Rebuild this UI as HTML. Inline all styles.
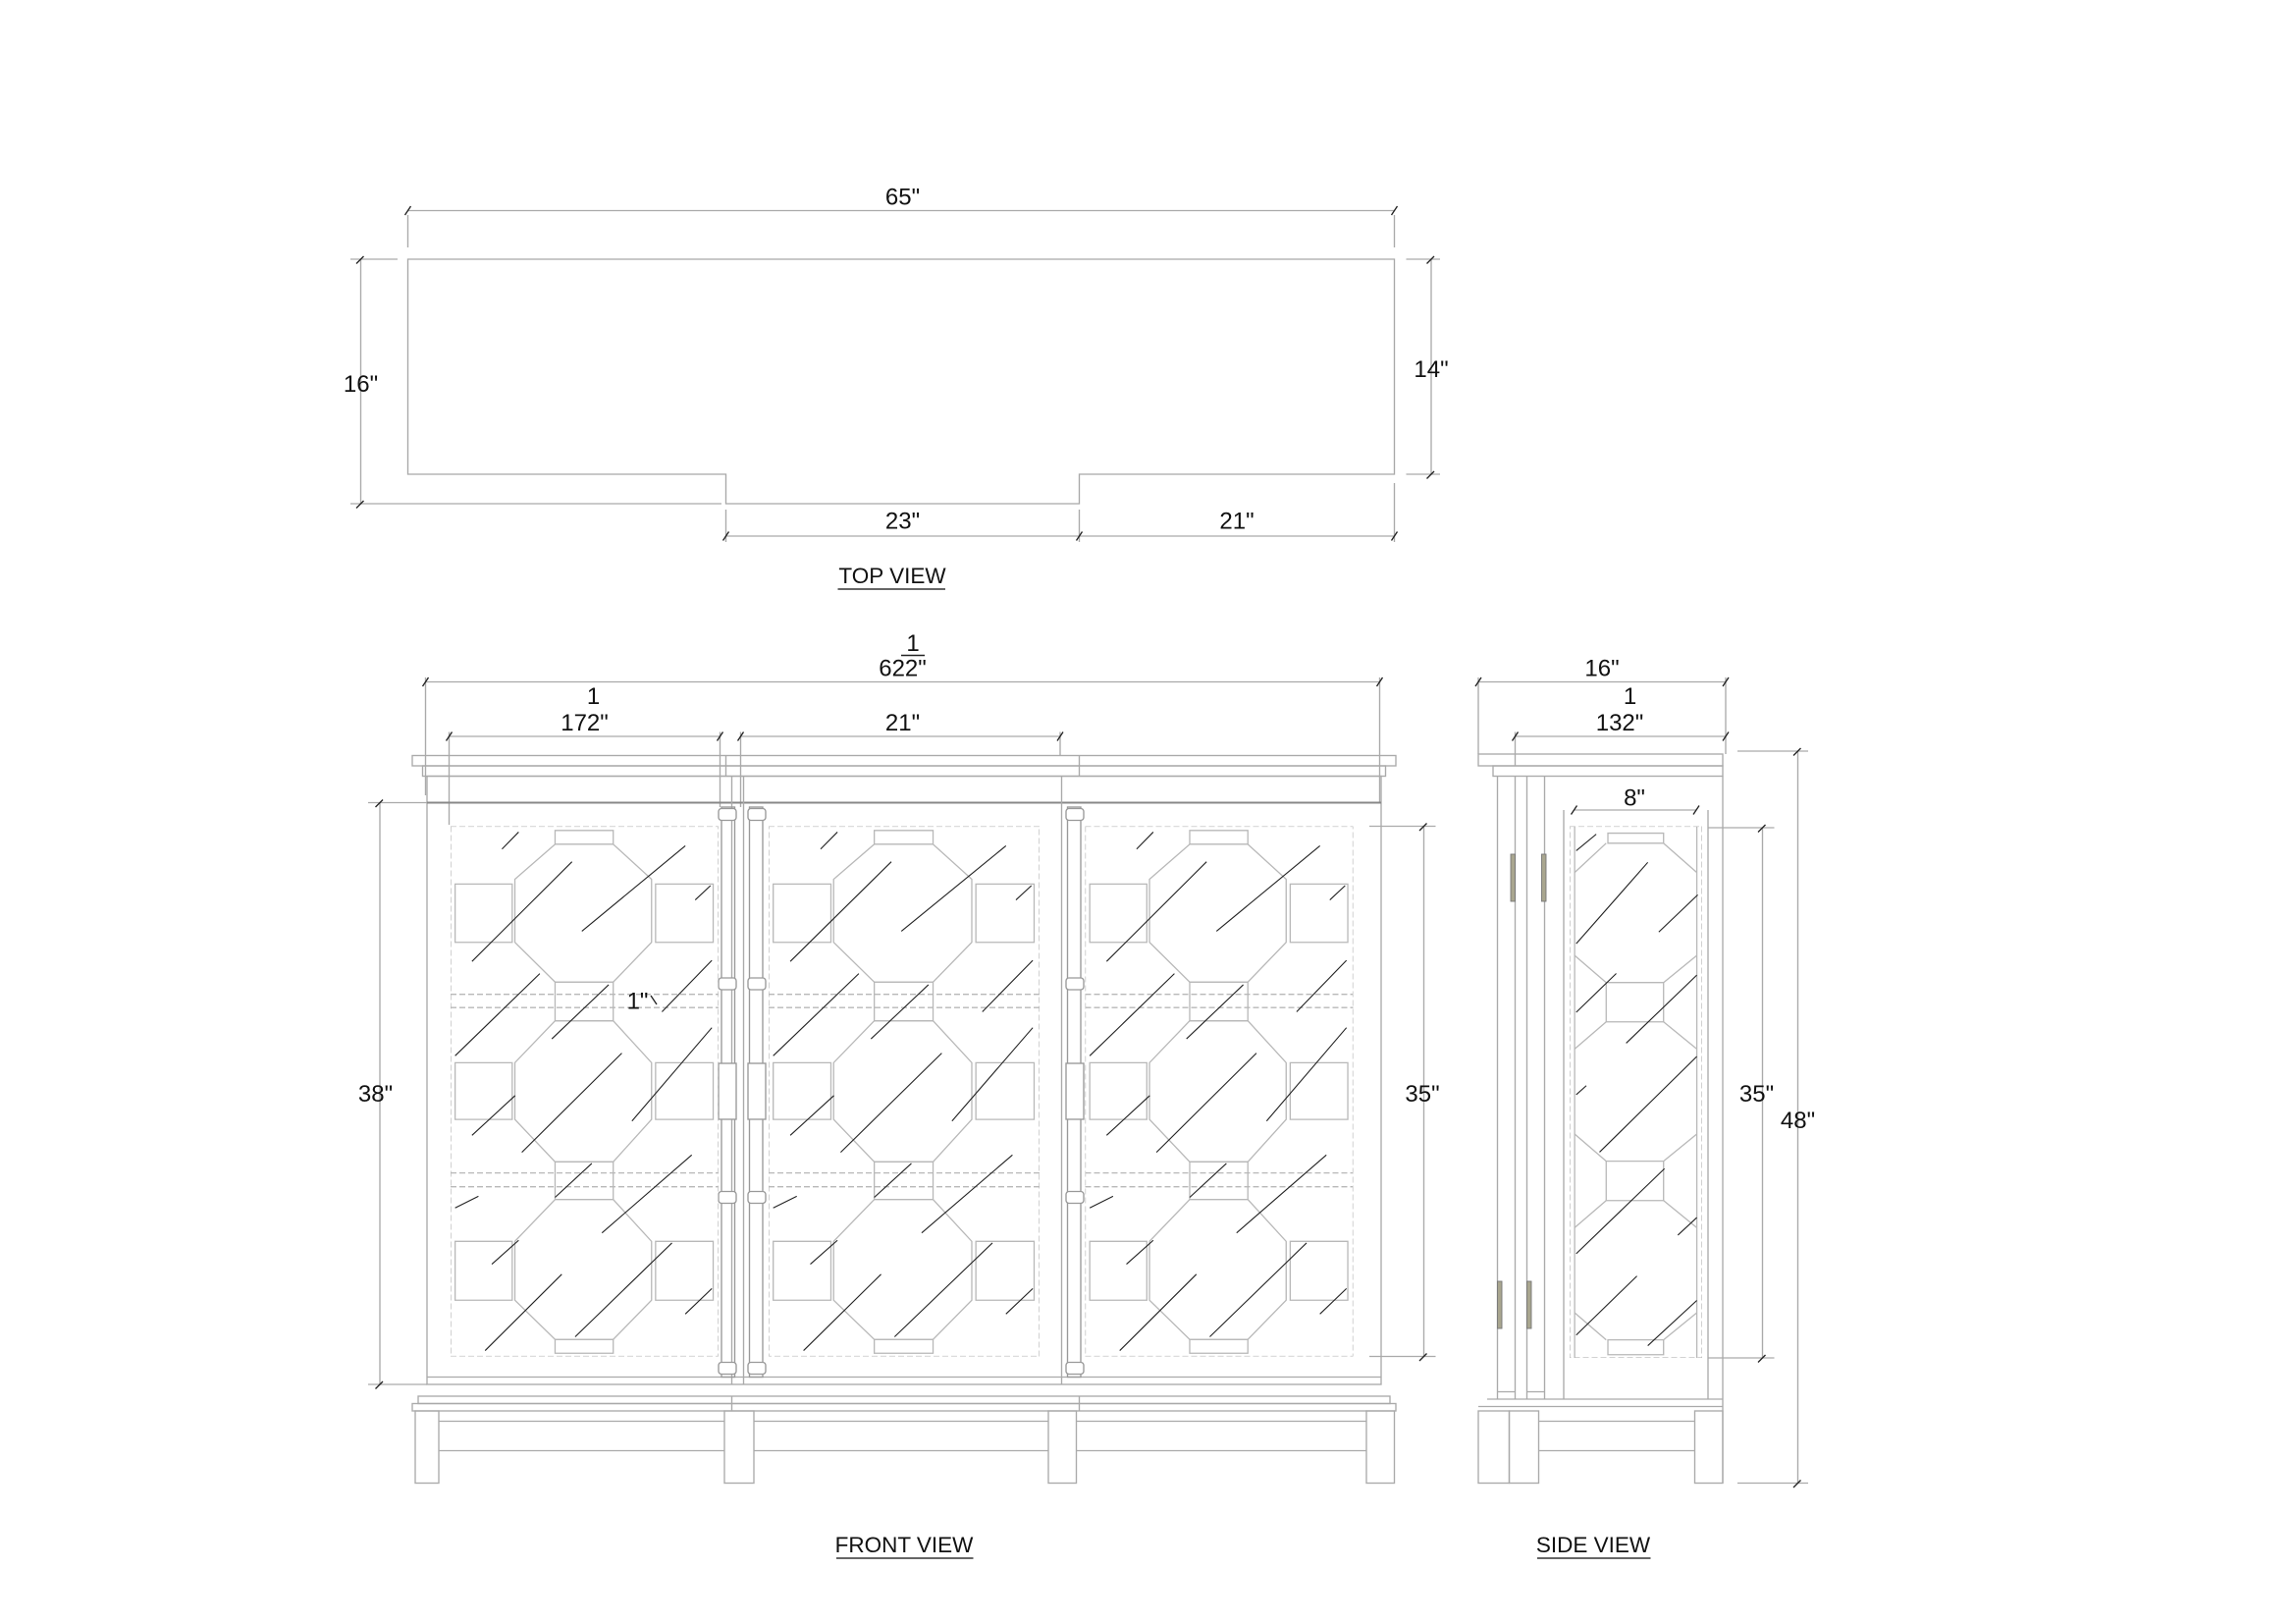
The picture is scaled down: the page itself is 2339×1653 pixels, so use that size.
<!DOCTYPE html>
<html><head><meta charset="utf-8"><style>
html,body{margin:0;padding:0;background:#fff;}
svg{display:block;}
text{font-family:"Liberation Sans Narrow","Liberation Sans",sans-serif;fill:#111;}
</style></head><body>
<svg width="2339" height="1653" viewBox="0 0 1559.33 1102" preserveAspectRatio="none" xmlns="http://www.w3.org/2000/svg">
<defs>
<symbol id="door" viewBox="0 0 100 100" preserveAspectRatio="none">
 <g fill="none" stroke="#b8b8b8" stroke-width="1.3" vector-effect="non-scaling-stroke">
  <rect x="0" y="0" width="100" height="100" stroke-dasharray="6 3" vector-effect="non-scaling-stroke"/>
  <path vector-effect="non-scaling-stroke" d="M39,3.4 L60.7,3.4 L75,10 L75,21.9 L60.7,29.4 L39,29.4 L24,21.9 L24,10 Z"/>
  <path vector-effect="non-scaling-stroke" d="M39,36.7 L60.7,36.7 L75,44.6 L75,55.3 L60.7,63.3 L39,63.3 L24,55.3 L24,44.6 Z"/>
  <path vector-effect="non-scaling-stroke" d="M39,70.4 L60.7,70.4 L75,78.3 L75,89.4 L60.7,96.8 L39,96.8 L24,89.4 L24,78.3 Z"/>
  <rect vector-effect="non-scaling-stroke" x="39" y="0.8" width="21.7" height="2.6"/>
  <rect vector-effect="non-scaling-stroke" x="39" y="29.4" width="21.7" height="7.3"/>
  <rect vector-effect="non-scaling-stroke" x="39" y="63.3" width="21.7" height="7.1"/>
  <rect vector-effect="non-scaling-stroke" x="39" y="96.8" width="21.7" height="2.6"/>
  <rect vector-effect="non-scaling-stroke" x="1.7" y="10.9" width="21.3" height="11"/>
  <rect vector-effect="non-scaling-stroke" x="76.5" y="10.9" width="21.5" height="11"/>
  <rect vector-effect="non-scaling-stroke" x="1.7" y="44.6" width="21.3" height="10.7"/>
  <rect vector-effect="non-scaling-stroke" x="76.5" y="44.6" width="21.5" height="10.7"/>
  <rect vector-effect="non-scaling-stroke" x="1.7" y="78.3" width="21.3" height="11.1"/>
  <rect vector-effect="non-scaling-stroke" x="76.5" y="78.3" width="21.5" height="11.1"/>
  <path vector-effect="non-scaling-stroke" stroke-dasharray="6 3" d="M0,31.7 H100 M0,34.2 H100 M0,65.4 H100 M0,68 H100"/>
 </g>
 <g stroke="#222" stroke-width="1.1" vector-effect="non-scaling-stroke">
  <path vector-effect="non-scaling-stroke" d="M8,25.5 L45.3,6.7 M49,19.8 L87.6,3.7 M1.7,43.3 L33.3,27.8 M37.8,40.1 L59,29.9 M78.9,35 L97.5,25.3 M8,58.3 L24.1,50.8 M26.6,61.5 L63.9,42.8 M67.7,55.6 L97.5,38 M56.5,76.7 L90,62 M15.4,82.6 L25.4,78.1 M12.9,98.9 L41.5,84.5 M46.5,96.3 L82.6,78.6 M87.6,92 L97.5,87.2 M19.2,4.3 L25.4,1.1 M91.3,13.9 L97,11.2 M39,70 L52.7,63.6 M1.7,72 L10.4,69.8"/>
 </g>
</symbol>
<symbol id="sidep" viewBox="0 0 100 100" preserveAspectRatio="none">
 <g fill="none" stroke="#b8b8b8" stroke-width="1.3">
  <rect vector-effect="non-scaling-stroke" x="0" y="0" width="100" height="100" stroke-dasharray="6 3"/>
  <path vector-effect="non-scaling-stroke" d="M3.8,0 V100 M96,0 V100"/>
  <rect vector-effect="non-scaling-stroke" x="28.9" y="1.3" width="42" height="1.9"/>
  <path vector-effect="non-scaling-stroke" d="M3.8,8.7 L27.6,3.2 M70.9,3.2 L96,8.7"/>
  <path vector-effect="non-scaling-stroke" d="M3.8,24.3 L27.6,29.4 M96,24.3 L70.9,29.4 M3.8,41.9 L27.6,36.8 M96,41.9 L70.9,36.8"/>
  <rect vector-effect="non-scaling-stroke" x="27.6" y="29.4" width="43.3" height="7.4"/>
  <path vector-effect="non-scaling-stroke" d="M3.8,57.9 L27.6,63 M96,57.9 L70.9,63 M3.8,75.5 L27.6,70.4 M96,75.5 L70.9,70.4"/>
  <rect vector-effect="non-scaling-stroke" x="27.6" y="63" width="43.3" height="7.4"/>
  <path vector-effect="non-scaling-stroke" d="M3.8,91.5 L27.6,96.6 M96,91.5 L70.9,96.6"/>
  <rect vector-effect="non-scaling-stroke" x="28.9" y="96.6" width="42" height="2.8"/>
 </g>
 <g stroke="#222" stroke-width="1.1">
  <path vector-effect="non-scaling-stroke" d="M5,22.1 L59,6.8 M67.3,19.9 L96.7,12.9 M5,35 L35.2,27.7 M42.7,40.8 L96,28 M5,50.5 L12.6,48.8 M22.6,61.3 L96,43.3 M5,80.4 L71.6,64.4 M81.7,76.9 L96,73.6 M5,95.7 L50.8,84.6 M59,97.7 L96,89.2 M5,4.6 L20.1,1.5"/>
 </g>
</symbol>
</defs>

<!-- TOP VIEW -->
<g fill="none" stroke="#aaa" stroke-width="0.9">
 <path d="M277,176 H947 V322 H733 V342 H493 V322 H277 Z" stroke="#a8a8a8"/>
 <path d="M277,143 H947 M277,146 V168 M947,146 V168"/>
 <path d="M245,176 V342 M238,176 H270 M238,342 H490"/>
 <path d="M972,176 V322 M955,176 H978 M955,322 H978"/>
 <path d="M493,364 H947 M493,346 V368 M733,346 V368 M947,328 V368"/>
</g>
<g stroke="#222" stroke-width="0.9">
 <path d="M275,146 l4,-6 M945,146 l4,-6 M242,179 l5,-5 M242,345 l5,-5 M969,179 l5,-5 M969,325 l5,-5 M491,367 l4,-6 M731,367 l4,-6 M945,367 l4,-6"/>
</g>
<g font-size="16" text-anchor="middle">
 <text x="613" y="139">65"</text>
 <text x="245" y="266">16"</text>
 <text x="972" y="256">14"</text>
 <text x="613" y="359">23"</text>
 <text x="840" y="359">21"</text>
 <text x="606" y="396" font-size="15">TOP VIEW</text>
</g>
<path d="M569,400 H642" stroke="#333" stroke-width="1"/>

<!-- FRONT VIEW -->
<g fill="none" stroke="#aaa" stroke-width="0.9">
 <path d="M289,463 H937 M289,460 V540 M937,460 V545"/>
 <path d="M305,500 H489 M503,500 H720 M305,497 V560 M489,497 V548 M503,497 V548 M720,497 V513"/>
 <rect x="280" y="513" width="668" height="7"/>
 <rect x="287" y="520" width="654" height="7"/>
 <path d="M493,513 V527 M733,513 V527"/>
 <rect x="290" y="527" width="648" height="413"/>
 <path d="M290,545 H938" stroke="#888" stroke-width="1.3"/>
 <path d="M497,527 V940 M505,527 V940 M721,527 V940"/>
 <path d="M290,935 H938"/>
 <rect x="284" y="948" width="660" height="5"/>
 <rect x="280" y="953" width="668" height="5"/>
 <path d="M497,948 V958 M733,948 V958"/>
 <rect x="282" y="958" width="16" height="49"/>
 <rect x="492" y="958" width="20" height="49"/>
 <rect x="712" y="958" width="19" height="49"/>
 <rect x="928" y="958" width="19" height="49"/>
 <path d="M298,965 H492 M298,985 H492 M512,965 H712 M512,985 H712 M731,965 H928 M731,985 H928"/>
 <path d="M258,545 V940 M250,545 H290 M250,940 H290"/>
 <path d="M967,561 V921 M930,561 H975 M930,921 H975"/>
 <!-- hardware -->
 <g stroke="#999">
  <rect x="490" y="548" width="9" height="387"/>
  <rect x="509" y="548" width="9" height="387"/>
  <rect x="725" y="548" width="9" height="387"/>
  <g fill="#fff">
   <rect x="488" y="549" width="12" height="8" rx="2"/><rect x="508" y="549" width="12" height="8" rx="2"/><rect x="724" y="549" width="12" height="8" rx="2"/>
   <rect x="488" y="664" width="12" height="8" rx="2"/><rect x="508" y="664" width="12" height="8" rx="2"/><rect x="724" y="664" width="12" height="8" rx="2"/>
   <rect x="488" y="809" width="12" height="8" rx="2"/><rect x="508" y="809" width="12" height="8" rx="2"/><rect x="724" y="809" width="12" height="8" rx="2"/>
   <rect x="488" y="925" width="12" height="8" rx="2"/><rect x="508" y="925" width="12" height="8" rx="2"/><rect x="724" y="925" width="12" height="8" rx="2"/>
   <rect x="488" y="722" width="12" height="38"/><rect x="508" y="722" width="12" height="38"/><rect x="724" y="722" width="12" height="38"/>
  </g>
 </g>
</g>
<use href="#door" x="306" y="561" width="182" height="360"/>
<use href="#door" x="522" y="561" width="184" height="360"/>
<use href="#door" x="737" y="561" width="182" height="360"/>
<g stroke="#222" stroke-width="0.9">
 <path d="M287,466 l4,-6 M935,466 l4,-6 M303,503 l4,-6 M487,503 l4,-6 M501,503 l4,-6 M718,503 l4,-6 M255,548 l5,-5 M255,943 l5,-5 M964,564 l5,-5 M964,924 l5,-5 M442,676 l4,6"/>
</g>
<g font-size="16" text-anchor="middle">
 <text x="620" y="442">1</text>
 <path d="M612,445 H628" stroke="#222"/>
 <text x="613" y="459">622"</text>
 <text x="403" y="478">1</text>
 <text x="397" y="496">172"</text>
 <text x="613" y="496">21"</text>
 <text x="433" y="685">1"</text>
 <text x="255" y="748">38"</text>
 <text x="966" y="748">35"</text>
 <text x="614" y="1054" font-size="15">FRONT VIEW</text>
</g>
<path d="M568,1058 H661" stroke="#333" stroke-width="1"/>

<!-- SIDE VIEW -->
<g fill="none" stroke="#aaa" stroke-width="0.9">
 <path d="M1004,463 H1172 M1004,460 V512 M1172,460 V512"/>
 <path d="M1029,500 H1172 M1029,497 V512"/>
 <rect x="1004" y="512" width="166" height="8"/>
 <rect x="1014" y="520" width="156" height="7"/>
 <path d="M1029,512 V520"/>
 <path d="M1017,527 V950 M1029,527 V950 M1037,527 V950 M1049,527 V950 M1170,527 V1007"/>
 <path d="M1017,945 H1029 M1037,945 H1049"/>
 <path d="M1062,550 V950 M1160,550 V950"/>
 <path d="M1069,550 H1152"/>
 <path d="M1010,950 H1170 M1004,955 H1170"/>
 <rect x="1004" y="958" width="21" height="49"/>
 <rect x="1025" y="958" width="20" height="49"/>
 <rect x="1151" y="958" width="19" height="49"/>
 <path d="M1045,965 H1151 M1045,985 H1151"/>
 <path d="M1197,562 V922 M1160,562 H1205 M1160,922 H1205"/>
 <path d="M1221,510 V1007 M1180,510 H1228 M1180,1007 H1228"/>
</g>
<use href="#sidep" x="1066" y="561" width="90" height="361"/>
<g fill="#a9a68f" stroke="#777" stroke-width="0.6">
 <rect x="1026" y="580" width="3" height="32"/><rect x="1047" y="580" width="3" height="32"/>
 <rect x="1017" y="870" width="3" height="32"/><rect x="1037" y="870" width="3" height="32"/>
</g>
<g stroke="#222" stroke-width="0.9">
 <path d="M1002,466 l4,-6 M1170,466 l4,-6 M1027,503 l4,-6 M1170,503 l4,-6 M1067,553 l4,-6 M1150,553 l4,-6 M1194,565 l5,-5 M1194,925 l5,-5 M1218,513 l5,-5 M1218,1010 l5,-5"/>
</g>
<g font-size="16" text-anchor="middle">
 <text x="1088" y="459">16"</text>
 <text x="1107" y="478">1</text>
 <text x="1100" y="496">132"</text>
 <text x="1110" y="547">8"</text>
 <text x="1193" y="748">35"</text>
 <text x="1221" y="766">48"</text>
 <text x="1082" y="1054" font-size="15">SIDE VIEW</text>
</g>
<path d="M1044,1058 H1121" stroke="#333" stroke-width="1"/>
</svg>
</body></html>
